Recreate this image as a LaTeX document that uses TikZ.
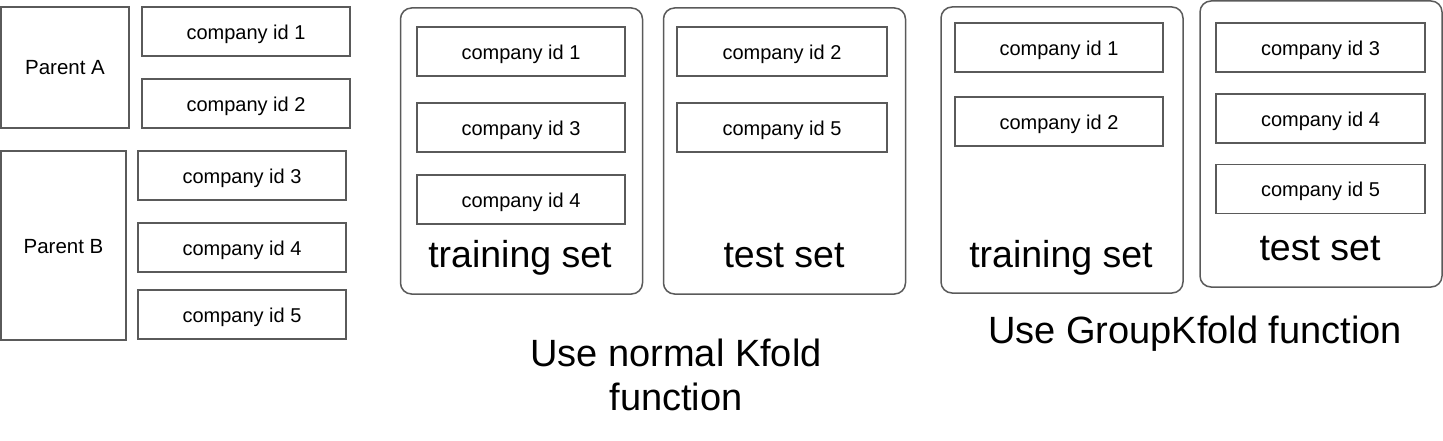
\documentclass[tikz,border=0pt]{standalone}
\usepackage{fontspec}
\setmainfont{Liberation Sans}
\definecolor{edgegray}{HTML}{5A5A5A}
\tikzset{
  idbox/.style={draw=edgegray, line width=1.5pt, minimum width=208pt,
    minimum height=49pt, inner sep=0pt, text height=15.6pt, text depth=0pt,
    font=\fontsize{20}{24}\selectfont},
  parentbox/.style={draw=edgegray, line width=1.5pt, inner sep=0pt,
    text height=15pt, text depth=0pt, font=\fontsize{20.5}{24}\selectfont},
  setbox/.style={draw=edgegray, line width=1.5pt, rounded corners=11pt,
    minimum width=242pt, minimum height=286pt, inner sep=0pt},
  setlabel/.style={anchor=base, inner sep=0pt, font=\fontsize{37.5}{43}\selectfont},
  caption/.style={anchor=base, inner sep=0pt, font=\fontsize{38}{43}\selectfont},
}
\begin{document}
\begin{tikzpicture}[x=1pt, y=-1pt]
  \useasboundingbox (0,0) rectangle (1443,441);
  % companies grouped by parent
  \node[parentbox, minimum width=128pt, minimum height=121pt] (pa) at (65,67.5) {Parent A};
  \node[parentbox, minimum width=125pt, minimum height=189pt] (pb) at (63.5,245.5) {Parent B};
  \node[idbox] (l1) at (246,31.5) {company id 1};
  \node[idbox] (l2) at (246,103.5) {company id 2};
  \node[idbox] (l3) at (242,175.5) {company id 3};
  \node[idbox] (l4) at (242,247.5) {company id 4};
  \node[idbox] (l5) at (242,314.5) {company id 5};
  % normal kfold
  \node[setbox] (ktrain) at (521.5,151) {};
  \node[setbox] (ktest) at (784.5,151) {};
  \node[idbox] (k1) at (521,51.5) {company id 1};
  \node[idbox] (k3) at (521,127.5) {company id 3};
  \node[idbox] (k4) at (521,199.5) {company id 4};
  \node[setlabel] (ktrainlbl) at (520,267) {training set};
  \node[idbox, minimum width=210pt] (k2) at (782,51.5) {company id 2};
  \node[idbox, minimum width=210pt] (k5) at (782,127.5) {company id 5};
  \node[setlabel] (ktestlbl) at (784,267) {test set};
  \node[caption] (kcap) at (676,366.7) {Use normal Kfold};
  \node[caption] (kcapb) at (676,410) {function};
  % group kfold
  \node[setbox] (gtrain) at (1062,150) {};
  \node[setbox] (gtest) at (1321,144) {};
  \node[idbox] (g1) at (1059,47.5) {company id 1};
  \node[idbox] (g2) at (1059,121.5) {company id 2};
  \node[setlabel] (gtrainlbl) at (1061,267) {training set};
  \node[idbox, minimum width=209pt] (g3) at (1320.5,47.5) {company id 3};
  \node[idbox, minimum width=209pt] (g4) at (1320.5,118.5) {company id 4};
  \node[idbox, minimum width=209pt] (g5) at (1320.5,189) {company id 5};
  \node[setlabel] (gtestlbl) at (1320,260) {test set};
  \node[caption] (gcap) at (1195,343) {Use GroupKfold function};
\end{tikzpicture}
\end{document}
